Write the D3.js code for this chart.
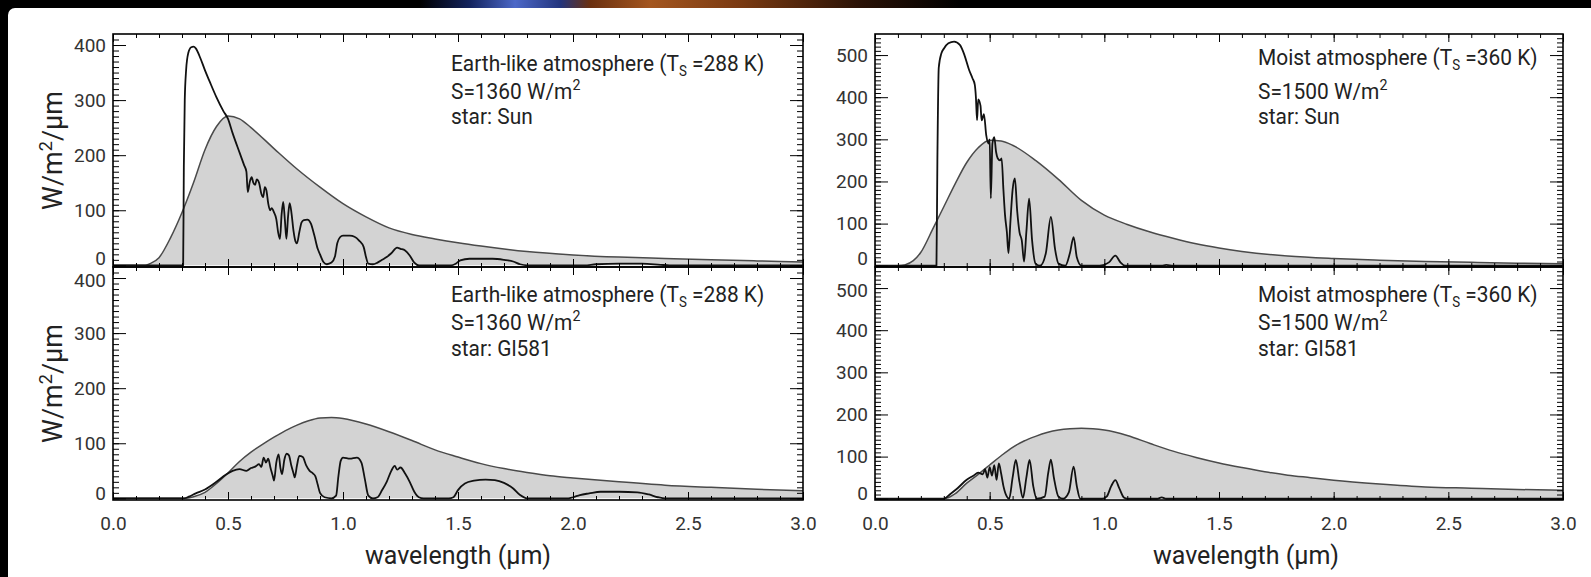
<!DOCTYPE html>
<html>
<head>
<meta charset="utf-8">
<script src="https://cdn.jsdelivr.net/npm/d3@7"></script>
<style>
  html, body { margin: 0; padding: 0; background: #000; }
  svg { display: block; }
  text { font-family: Roboto, "Liberation Sans", "DejaVu Sans", sans-serif; }
</style>
</head>
<body>
<svg id="chart" width="1591" height="577"></svg>
<script>
// ---------------- data ----------------
const wavelengthTicks = [0, 0.5, 1.0, 1.5, 2.0, 2.5, 3.0];
const fluxTicksEarth = [0, 100, 200, 300, 400];
const fluxTicksMoist = [0, 100, 200, 300, 400, 500];

const atmosphereNames = ["Earth-like atmosphere", "Moist atmosphere"];
const surfaceTemps = ["288 K", "360 K"];
const stellarFluxes = ["1360", "1500"];
const starNames = ["Sun", "Gl581"];

// Top of atmosphere stellar spectrum (grey, filled) and surface spectrum (black line)
// [wavelength (µm), W/m²/µm]
const earthSunEnvelope = [
  [0, 0], [0.14, 0], [0.16, 3], [0.2, 14], [0.25, 50], [0.3, 96], [0.35, 150], [0.4, 210],
  [0.45, 252], [0.5, 271], [0.55, 266], [0.6, 250], [0.7, 212], [0.8, 175], [0.9, 142],
  [1.0, 112], [1.1, 88], [1.2, 68], [1.3, 56], [1.4, 48], [1.5, 41], [1.6, 35], [1.8, 25],
  [2.0, 19], [2.2, 15], [2.4, 12.5], [2.6, 10], [2.8, 8], [3.0, 6]
];
const earthSunSpectrum = [
  [0, 0], [0.305, 0], [0.308, 180], [0.312, 300], [0.318, 355], [0.327, 385], [0.34, 396],
  [0.35, 397], [0.36, 394], [0.38, 376], [0.40, 354], [0.42, 334], [0.45, 305], [0.48, 280],
  [0.50, 266], [0.52, 240], [0.55, 205], [0.57, 182], [0.58, 170], [0.586, 133], [0.595, 152],
  [0.603, 160], [0.61, 150], [0.618, 146], [0.625, 156], [0.635, 150], [0.645, 130],
  [0.653, 124], [0.66, 142], [0.667, 136], [0.675, 112], [0.683, 100], [0.69, 104],
  [0.70, 96], [0.71, 84], [0.718, 60], [0.726, 48], [0.733, 92], [0.74, 115], [0.747, 84],
  [0.754, 48], [0.761, 88], [0.768, 113], [0.776, 95], [0.785, 62], [0.793, 44], [0.80, 40],
  [0.81, 60], [0.82, 78], [0.83, 82], [0.845, 83], [0.86, 76], [0.875, 55], [0.89, 30],
  [0.90, 20], [0.915, 6], [0.93, 2], [0.95, 5], [0.965, 16], [0.975, 40], [0.987, 51],
  [1.0, 54], [1.03, 54], [1.05, 52], [1.07, 45], [1.09, 33], [1.10, 15], [1.11, 3],
  [1.13, 2], [1.15, 5], [1.17, 10], [1.19, 15], [1.21, 22], [1.235, 32], [1.25, 30],
  [1.27, 27], [1.29, 18], [1.31, 5], [1.33, 0], [1.47, 0], [1.49, 3], [1.51, 9], [1.55, 12],
  [1.60, 12], [1.65, 12], [1.70, 10], [1.74, 7], [1.77, 2], [1.80, 0], [2.05, 0], [2.10, 2],
  [2.20, 3], [2.30, 3], [2.38, 1], [2.42, 0], [3.0, 0]
];

const earthGlEnvelope = [
  [0, 0], [0.31, 0], [0.35, 3], [0.4, 11], [0.45, 27], [0.5, 46], [0.55, 67], [0.6, 84],
  [0.65, 98], [0.7, 111], [0.75, 123], [0.8, 133], [0.85, 141], [0.9, 146], [0.95, 147],
  [1.0, 145], [1.1, 135], [1.2, 121], [1.3, 105], [1.4, 88], [1.5, 75], [1.6, 63], [1.7, 54],
  [1.8, 47], [1.9, 41], [2.0, 37], [2.2, 30], [2.4, 24], [2.6, 20], [2.8, 16.5], [3.0, 14]
];
const earthGlSpectrum = [
  [0, 0], [0.31, 0], [0.33, 3], [0.36, 9], [0.40, 16], [0.45, 30], [0.49, 43], [0.52, 50],
  [0.55, 53], [0.58, 50], [0.60, 55], [0.62, 58], [0.635, 62], [0.645, 57], [0.655, 74],
  [0.665, 65], [0.675, 72], [0.685, 55], [0.695, 40], [0.70, 32], [0.71, 65], [0.72, 80],
  [0.728, 55], [0.735, 44], [0.745, 70], [0.755, 81], [0.765, 78], [0.775, 60], [0.785, 45],
  [0.79, 38], [0.80, 60], [0.81, 77], [0.825, 75], [0.84, 60], [0.855, 50], [0.87, 45],
  [0.88, 40], [0.89, 25], [0.90, 10], [0.92, 2], [0.95, 0], [0.97, 5], [0.98, 40],
  [0.99, 68], [1.00, 74], [1.03, 72], [1.06, 74], [1.08, 65], [1.095, 35], [1.11, 5],
  [1.13, 0], [1.15, 2], [1.17, 15], [1.19, 30], [1.21, 50], [1.225, 59], [1.235, 52],
  [1.25, 56], [1.27, 45], [1.29, 30], [1.31, 12], [1.33, 2], [1.35, 0], [1.46, 0], [1.48, 2],
  [1.50, 15], [1.53, 27], [1.57, 32], [1.62, 34], [1.66, 33], [1.70, 28], [1.74, 18],
  [1.77, 6], [1.80, 0], [1.98, 0], [2.0, 2], [2.03, 6], [2.07, 9], [2.12, 12], [2.2, 12],
  [2.28, 11], [2.33, 7], [2.37, 2], [2.40, 0], [3.0, 0]
];

const moistSunEnvelope = [
  [0, 0], [0.1, 0], [0.13, 2], [0.167, 12], [0.2, 32], [0.25, 85], [0.3, 140], [0.35, 195],
  [0.4, 245], [0.45, 280], [0.5, 298], [0.55, 296], [0.6, 286], [0.7, 250], [0.8, 205],
  [0.9, 155], [1.0, 120], [1.1, 98], [1.2, 80], [1.3, 65], [1.4, 52], [1.5, 42], [1.6, 34],
  [1.8, 23], [2.0, 17], [2.2, 13], [2.4, 10], [2.6, 8], [2.8, 6], [3.0, 5]
];
const moistSunSpectrum = [
  [0, 0], [0.268, 0], [0.272, 250], [0.278, 470], [0.29, 505], [0.30, 515], [0.32, 528],
  [0.345, 532], [0.37, 524], [0.39, 500], [0.41, 465], [0.425, 445], [0.435, 430],
  [0.44, 400], [0.445, 345], [0.45, 395], [0.46, 380], [0.465, 345], [0.475, 360],
  [0.485, 310], [0.495, 290], [0.50, 300], [0.505, 160], [0.512, 290], [0.52, 305],
  [0.528, 270], [0.535, 255], [0.545, 250], [0.552, 255], [0.56, 180], [0.567, 120],
  [0.575, 80], [0.582, 30], [0.59, 100], [0.60, 180], [0.61, 207], [0.62, 130], [0.63, 80],
  [0.64, 60], [0.65, 10], [0.66, 80], [0.672, 159], [0.685, 60], [0.70, 5], [0.72, 0],
  [0.745, 30], [0.767, 116], [0.785, 40], [0.80, 5], [0.83, 0], [0.85, 30], [0.866, 68],
  [0.88, 20], [0.90, 0], [0.98, 0], [1.02, 8], [1.048, 24], [1.07, 8], [1.09, 0], [1.25, 0],
  [1.27, 2], [1.30, 0], [3.0, 0]
];

const moistGlEnvelope = [
  [0, 0], [0.30, 0], [0.35, 12], [0.4, 37], [0.45, 58], [0.5, 80], [0.55, 102], [0.6, 122],
  [0.65, 137], [0.7, 148], [0.75, 157], [0.8, 163], [0.85, 166], [0.9, 167], [0.95, 166],
  [1.0, 163], [1.1, 150], [1.2, 131], [1.3, 113], [1.4, 98], [1.5, 85], [1.6, 74], [1.7, 64],
  [1.8, 56], [1.9, 50], [2.0, 44], [2.2, 35], [2.4, 28], [2.6, 25], [2.8, 22], [3.0, 20]
];
const moistGlSpectrum = [
  [0, 0], [0.29, 0], [0.30, 0], [0.33, 12], [0.36, 25], [0.40, 45], [0.43, 55], [0.45, 62],
  [0.47, 58], [0.48, 70], [0.49, 50], [0.50, 75], [0.51, 55], [0.52, 80], [0.53, 45],
  [0.54, 84], [0.55, 60], [0.56, 30], [0.575, 5], [0.585, 0], [0.60, 50], [0.614, 92],
  [0.63, 40], [0.645, 2], [0.66, 50], [0.674, 92], [0.69, 30], [0.705, 0], [0.74, 5],
  [0.755, 60], [0.767, 93], [0.78, 50], [0.80, 5], [0.82, 0], [0.845, 15], [0.866, 76],
  [0.88, 30], [0.895, 0], [0.99, 0], [1.01, 5], [1.03, 30], [1.048, 44], [1.065, 25],
  [1.085, 3], [1.10, 0], [1.23, 0], [1.25, 3], [1.27, 0], [3.0, 0]
];

// ---------------- layout ----------------
const W = 1591, H = 577;
const colX = [[113, 803], [875, 1563]];
const rowY = [[34, 267], [267, 500]];
const yDomains = [[-3, 420], [-3, 550]];

const panels = [
  { col: 0, row: 0, env: earthSunEnvelope, spec: earthSunSpectrum, ticks: fluxTicksEarth, atm: 0, star: 0 },
  { col: 0, row: 1, env: earthGlEnvelope, spec: earthGlSpectrum, ticks: fluxTicksEarth, atm: 0, star: 1 },
  { col: 1, row: 0, env: moistSunEnvelope, spec: moistSunSpectrum, ticks: fluxTicksMoist, atm: 1, star: 0 },
  { col: 1, row: 1, env: moistGlEnvelope, spec: moistGlSpectrum, ticks: fluxTicksMoist, atm: 1, star: 1 }
];
// annotation block: left edge per column, baselines per [col][row]
const noteX = [451, 1258];
const noteY = [[[71, 99, 124.5], [302, 330, 356]], [[65, 99, 124.5], [302, 330, 356]]];

const svg = d3.select("#chart");
const defs = svg.append("defs");

// slide backdrop: dark frame with a coloured glow along the top edge
const glow = defs.append("linearGradient").attr("id", "topGlow")
  .attr("gradientUnits", "userSpaceOnUse").attr("x1", 0).attr("x2", W).attr("y1", 0).attr("y2", 0);
[[0, "#000"], [420, "#000"], [470, "#13235e"], [515, "#4c68c8"], [560, "#23357e"],
 [590, "#6a3010"], [650, "#a4561f"], [740, "#7a3a12"], [860, "#2a1206"], [960, "#000"], [W, "#000"]]
  .forEach(([o, c]) => glow.append("stop").attr("offset", o / W).attr("stop-color", c));

svg.append("rect").attr("width", W).attr("height", H).attr("fill", "#000");
svg.append("rect").attr("width", W).attr("height", 10).attr("fill", "url(#topGlow)");
svg.append("rect").attr("x", 8).attr("y", 8).attr("width", W).attr("height", H)
  .attr("rx", 7).attr("fill", "#fff");

const fmtX = d3.format(".1f");

panels.forEach((p, i) => {
  const [x0, x1] = colX[p.col];
  const [y0, y1] = rowY[p.row];
  const x = d3.scaleLinear().domain([0, 3]).range([x0, x1]);
  const y = d3.scaleLinear().domain(yDomains[p.col]).range([y1, y0]);
  const g = svg.append("g");

  const clipId = "clip" + i;
  defs.append("clipPath").attr("id", clipId).append("rect")
    .attr("x", x0).attr("y", y0).attr("width", x1 - x0).attr("height", y1 - y0);

  const plot = g.append("g").attr("clip-path", `url(#${clipId})`);
  const area = d3.area().x(d => x(d[0])).y0(y(0)).y1(d => y(d[1])).curve(d3.curveMonotoneX);
  const line = d3.line().x(d => x(d[0])).y(d => y(d[1])).curve(d3.curveMonotoneX);

  plot.append("path").datum(p.env).attr("d", area).attr("fill", "#d3d3d3");
  plot.append("path").datum(p.env).attr("d", line).attr("fill", "none")
    .attr("stroke", "#4a4a4a").attr("stroke-width", 1.5);
  plot.append("path").datum(p.spec).attr("d", line).attr("fill", "none")
    .attr("stroke", "#111").attr("stroke-width", 1.8).attr("stroke-linejoin", "round");

  // axes: IDL style, ticks pointing inward on all four sides
  const minorX = d3.range(0, 3.0001, 0.1);
  const minorY = d3.range(0, yDomains[p.col][1], 10);
  const axes = g.append("g").attr("class", "axes");

  const addAxis = (axis, tx, ty) => {
    const a = axes.append("g").attr("transform", `translate(${tx},${ty})`).call(axis);
    a.select(".domain").remove();
    a.selectAll("line").attr("stroke", "#000").attr("stroke-width", 1);
    return a;
  };
  addAxis(d3.axisLeft(y).tickValues(minorY).tickSize(-6).tickFormat(""), x0, 0);
  const yl = addAxis(d3.axisLeft(y).tickValues(p.ticks).tickSize(-13).tickPadding(7)
    .tickFormat(d3.format("d")), x0, 0);
  // the zero label sits just above the panel's lower edge; the top label of a lower panel just below
  yl.selectAll("text").attr("font-size", 19).attr("fill", "#333")
    .attr("font-family", "Roboto, sans-serif")
    .attr("transform", d => d === 0 ? `translate(0,${p.row === 0 ? -7 : -5})`
      : (p.row === 1 && d === p.ticks[p.ticks.length - 1] ? "translate(0,2)" : null));
  addAxis(d3.axisRight(y).tickValues(minorY).tickSize(-6).tickFormat(""), x1, 0);
  addAxis(d3.axisRight(y).tickValues(p.ticks).tickSize(-13).tickFormat(""), x1, 0);
  addAxis(d3.axisTop(x).tickValues(minorX).tickSize(-4).tickFormat(""), 0, y0);
  addAxis(d3.axisTop(x).tickValues(wavelengthTicks).tickSize(-8).tickFormat(""), 0, y0);
  addAxis(d3.axisBottom(x).tickValues(minorX).tickSize(-4).tickFormat(""), 0, y1);
  const xl = addAxis(d3.axisBottom(x).tickValues(wavelengthTicks).tickSize(-8).tickPadding(17)
    .tickFormat(p.row === 1 ? fmtX : ""), 0, y1);
  xl.selectAll("text").attr("font-size", 19).attr("fill", "#333")
    .attr("font-family", "Roboto, sans-serif");

  g.append("rect").attr("x", x0).attr("y", y0).attr("width", x1 - x0).attr("height", y1 - y0)
    .attr("fill", "none").attr("stroke", "#000").attr("stroke-width", 1.6);

  // annotation block (slightly narrowed type)
  const nx = noteX[p.col], ny = noteY[p.col][p.row];
  const note = g.append("g").attr("font-size", 22).attr("fill", "#222")
    .attr("transform", `translate(${nx},0) scale(0.95,1)`);
  const t1 = note.append("text").attr("x", 0).attr("y", ny[0]);
  t1.append("tspan").text(atmosphereNames[p.atm] + " (T");
  t1.append("tspan").attr("dy", 5).attr("font-size", 14).text("S");
  t1.append("tspan").attr("dy", -5).text(" =" + surfaceTemps[p.atm] + ")");
  const t2 = note.append("text").attr("x", 0).attr("y", ny[1]);
  t2.append("tspan").text("S=" + stellarFluxes[p.atm] + " W/m");
  t2.append("tspan").attr("dy", -9).attr("font-size", 15).text("2");
  note.append("text").attr("x", 0).attr("y", ny[2]).text("star: " + starNames[p.star]);

  // y-axis title on the left column
  if (p.col === 0) {
    const yt = g.append("text")
      .attr("transform", `translate(62,${(y0 + y1) / 2}) rotate(-90)`)
      .attr("text-anchor", "middle").attr("font-size", 27).attr("fill", "#222");
    yt.append("tspan").text("W/m");
    yt.append("tspan").attr("dy", -10).attr("font-size", 18).text("2");
    yt.append("tspan").attr("dy", 10).text("/µm");
  }
  // x-axis title under the lower row
  if (p.row === 1) {
    g.append("text").attr("x", p.col === 0 ? 458 : 1246).attr("y", 564)
      .attr("text-anchor", "middle").attr("font-size", 25).attr("fill", "#222")
      .text("wavelength (µm)");
  }
});
</script>
</body>
</html>
